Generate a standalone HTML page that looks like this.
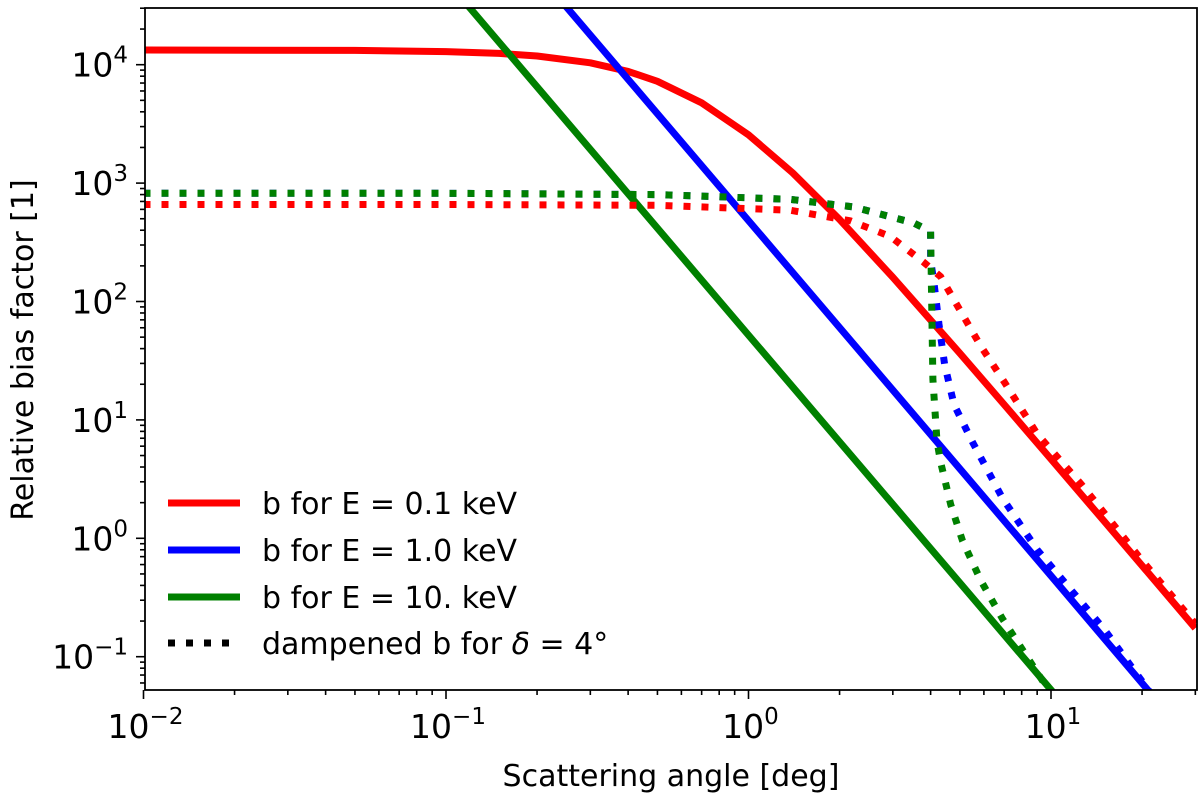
<!DOCTYPE html>
<html><head><meta charset="utf-8"><style>
body{margin:0;background:#fff;}
svg{display:block;font-family:"DejaVu Sans","Liberation Sans",sans-serif;}
</style></head><body>
<svg id="chart" width="1200" height="803" viewBox="0 0 1200 803">
<defs><clipPath id="clip"><rect x="145" y="8" width="1052" height="682"/></clipPath></defs>
<g id="plot" clip-path="url(#clip)"></g>
<g id="axes"></g>
</svg>
<script>
// Data: angles in deg, bias factor values
const redSolidX = [0.01,0.05,0.1,0.15,0.2,0.3,0.4,0.5,0.7,1,1.4,2,3,5,7,10,15,20,30];
const redSolidY = [13300,13200,12910,12450,11850,10370,8770,7240,4770,2560,1219,493,160,36.5,13.5,4.67,1.39,0.587,0.174];
const blueSolidX = [0.2,1,5,10,21.5];
const blueSolidY = [60000,482,3.86,0.482,0.048];
const greenSolidX = [0.1,1,5,10.3];
const greenSolidY = [52000,52,0.42,0.048];
const redDotX = [0.01,0.1,0.5,1.37,2.17,2.94,3.8,4.32,5.02,5.86,7.0,9.0,12.6,20,30];
const redDotY = [660,660,650,590,480,355,214,162,83,42,21,7.6,2.85,0.65,0.19];
const blueDotX = [0.01,0.1,0.5,1.37,2.22,3.52,4.0,4.0,4.1,4.18,4.26,4.45,4.78,5.5,6.9,9.0,15,21.5];
const blueDotY = [820,820,800,730,630,460,390,224,145,98,65,29.5,13.5,6.5,2.2,0.8,0.17,0.048];
const greenDotX = [0.01,0.1,0.5,1.37,2.22,3.52,4.0,4.04,4.07,4.2,4.32,4.66,5.1,5.86,6.9,10.5];
const greenDotY = [820,820,800,730,630,460,390,74,22,6.6,4.37,1.93,0.955,0.44,0.21,0.04];
const xTicks = [-2,-1,0,1];
const yTicks = [-1,0,1,2,3,4];
const legendLabels = ["b for E = 0.1 keV","b for E = 1.0 keV","b for E = 10. keV"];

const NS="http://www.w3.org/2000/svg";
const X0=143.5, XD=302.5, Y4=64.7, YD=118.4;
const xs=v=>X0+(Math.log10(v)+2)*XD;
const ys=v=>Y4+(4-Math.log10(v))*YD;
const plot=document.getElementById('plot'), axes=document.getElementById('axes');
function mk(tag,attrs,parent){const e=document.createElementNS(NS,tag);for(const k in attrs)e.setAttribute(k,attrs[k]);parent.appendChild(e);return e;}
function line(xa,ya,color,dotted,name){
  const d=xa.map((x,i)=>(i?'L':'M')+xs(x).toFixed(1)+' '+ys(ya[i]).toFixed(1)).join(' ');
  const p=mk('path',{d:d,fill:'none',stroke:color,'stroke-width':7,'stroke-linejoin':'round','stroke-dasharray':dotted?'7 11':'none'},plot);
  
  
}
line(redSolidX,redSolidY,'#ff0000',false,'red-solid-line');
line(blueSolidX,blueSolidY,'#0000ff',false,'blue-solid-line');
line(greenSolidX,greenSolidY,'#008000',false,'green-solid-line');
line(redDotX,redDotY,'#ff0000',true,'red-dotted-line');
line(blueDotX,blueDotY,'#0000ff',true,'blue-dotted-line');
line(greenDotX,greenDotY,'#008000',true,'green-dotted-line');

const fr=mk('rect',{x:145,y:8,width:1052,height:682,fill:'none',stroke:'#000','stroke-width':1.8},axes);


for(let d=-2;d<=1;d++){
  for(let m=1;m<=9;m++){
    const v=m*Math.pow(10,d); const x=xs(v); if(x>1197)continue;
    mk('line',{x1:x,x2:x,y1:690,y2:690+(m===1?9:5),stroke:'#000','stroke-width':1.6},axes);
  }
}
xTicks.forEach(t=>{
  const tx=mk('text',{x:xs(Math.pow(10,t))+2,y:738,'font-size':33,'text-anchor':'middle'},axes);
  
  
  tx.innerHTML='10<tspan dy="-14" font-size="23">'+(t<0?'\u2212'+(-t):t)+'</tspan>';
});
for(let d=-2;d<=4;d++){
  for(let m=1;m<=9;m++){
    const v=m*Math.pow(10,d); const y=ys(v); if(y<8||y>690)continue;
    mk('line',{x1:145,x2:145-(m===1?9:5),y1:y,y2:y,stroke:'#000','stroke-width':1.6},axes);
  }
}
yTicks.forEach(t=>{
  const tx=mk('text',{x:128,y:ys(Math.pow(10,t))+12,'font-size':33,'text-anchor':'end'},axes);
  
  
  tx.innerHTML='10<tspan dy="-14" font-size="23">'+(t<0?'\u2212'+(-t):t)+'</tspan>';
});
const xl=mk('text',{x:671,y:786,'font-size':30,'text-anchor':'middle'},axes);


xl.textContent='Scattering angle [deg]';
const yl=mk('text',{x:0,y:0,'font-size':30,'text-anchor':'middle',transform:'translate(33,350) rotate(-90)'},axes);


yl.textContent='Relative bias factor [1]';

const lg=mk('g',{},axes);


const cols=['#ff0000','#0000ff','#008000'];
const ly=[503,550,597,643];
legendLabels.forEach((t,i)=>{
  mk('line',{x1:168,x2:240,y1:ly[i],y2:ly[i],stroke:cols[i],'stroke-width':7},lg);
  const tx=mk('text',{x:262,y:ly[i]+11,'font-size':30},lg);
  
  
  tx.textContent=t;
});
mk('line',{x1:168,x2:240,y1:ly[3],y2:ly[3],stroke:'#000','stroke-width':7,'stroke-dasharray':'7 11'},lg);
const t4=mk('text',{x:262,y:ly[3]+11,'font-size':30},lg);


t4.innerHTML='dampened b for <tspan font-style="italic">\u03b4</tspan> = 4\u00b0';
</script>
</body></html>
